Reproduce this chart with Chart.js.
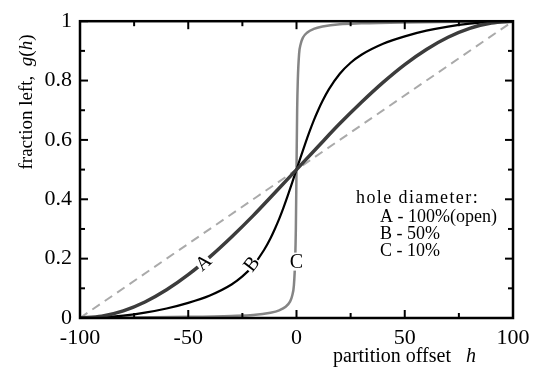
<!DOCTYPE html>
<html>
<head>
<meta charset="utf-8">
<script src="https://cdn.jsdelivr.net/npm/chart.js@4"></script>
<style>
  html, body { margin: 0; background: #fff; }
  #wrap { width: 542px; height: 367px; }
</style>
</head>
<body>
<div id="wrap"><canvas id="chart"></canvas></div>
<script>
// curve A - open hole (100%)
const hA = [-100, -90, -80, -70, -60, -50, -40, -30, -20, -10, 0, 10, 20, 30, 40, 50, 60, 70, 80, 90, 100];
const gA = [0, 0.006, 0.024, 0.054, 0.095, 0.146, 0.206, 0.273, 0.345, 0.422, 0.5, 0.578, 0.655, 0.727, 0.794, 0.854, 0.905, 0.946, 0.976, 0.994, 1];

// curve B - 50%
const hB = [-100, -90, -80, -70, -60, -50, -40, -30, -25, -20, -15, -12, -10, -8, -6, -4, -2, 0,
            2, 4, 6, 8, 10, 12, 15, 20, 25, 30, 40, 50, 60, 70, 80, 90, 100];
const gB = [0, 0.002, 0.008, 0.018, 0.032, 0.051, 0.076, 0.113, 0.14, 0.177, 0.229, 0.269, 0.3, 0.334, 0.372, 0.413, 0.456, 0.5,
            0.544, 0.587, 0.628, 0.666, 0.7, 0.731, 0.771, 0.823, 0.86, 0.887, 0.924, 0.949, 0.968, 0.982, 0.992, 0.998, 1];

// curve C - 10%
const hC = [-100, -75, -50, -30, -20, -12, -8, -5, -3, -2, -1.2, -0.6, -0.3, 0, 0.3, 0.6, 1.2, 2, 3, 5, 8, 12, 20, 30, 50, 75, 100];
const gC = [0, 0.002, 0.004, 0.007, 0.01, 0.018, 0.026, 0.038, 0.055, 0.075, 0.11, 0.2, 0.3, 0.5, 0.7, 0.8, 0.89, 0.925, 0.945, 0.962, 0.974, 0.982, 0.99, 0.993, 0.996, 0.998, 1];

// reference diagonal g = (h + 100) / 200
const hD = [-100, 100];
const gD = [0, 1];

// letters sitting on the curves
const curveLabels = ['A', 'B', 'C'];
const labelH = [-43, -20.8, 0];
const labelG = [0.187, 0.182, 0.19];

const legendLines = ['hole diameter:', 'A - 100%(open)', 'B - 50%', 'C - 10%'];

const xMajor = [-100, -50, 0, 50, 100];
const xMinor = [-75, -25, 25, 75];
const yMajor = [0, 0.2, 0.4, 0.6, 0.8, 1];
const yMinor = [0.1, 0.3, 0.5, 0.7, 0.9];

const SERIF = '"Liberation Serif", "DejaVu Serif", serif';

const pts = (xs, ys) => xs.map((v, i) => ({ x: v, y: ys[i] }));

const decorations = {
  id: 'decorations',
  afterDatasetsDraw(chart) {
    const { ctx, chartArea: a, scales: { x, y } } = chart;
    ctx.save();

    // curve letters, with a white patch that breaks the line
    const rot = [-41, -52, 0];
    ctx.font = `20px ${SERIF}`;
    ctx.textAlign = 'center';
    ctx.textBaseline = 'middle';
    curveLabels.forEach((t, i) => {
      const px = x.getPixelForValue(labelH[i]);
      const py = y.getPixelForValue(labelG[i]);
      ctx.save();
      ctx.translate(px, py);
      ctx.rotate(rot[i] * Math.PI / 180);
      ctx.fillStyle = '#fff';
      ctx.fillRect(-7, -9, 14, 18);
      ctx.fillStyle = '#000';
      ctx.fillText(t, 0, 1);
      ctx.restore();
    });

    // frame
    ctx.strokeStyle = '#000';
    ctx.lineWidth = 2.5;
    ctx.strokeRect(a.left, a.top, a.right - a.left, a.bottom - a.top);

    // inward ticks on all four sides
    ctx.lineWidth = 2;
    const seg = (x1, y1, x2, y2) => { ctx.beginPath(); ctx.moveTo(x1, y1); ctx.lineTo(x2, y2); ctx.stroke(); };
    const xt = (v, len) => {
      const px = x.getPixelForValue(v);
      seg(px, a.bottom, px, a.bottom - len);
      seg(px, a.top, px, a.top + len);
    };
    const yt = (v, len) => {
      const py = y.getPixelForValue(v);
      seg(a.left, py, a.left + len, py);
      seg(a.right, py, a.right - len, py);
    };
    xMajor.forEach(v => xt(v, 8));
    xMinor.forEach(v => xt(v, 5));
    yMajor.forEach(v => yt(v, 8));
    yMinor.forEach(v => yt(v, 5));
    ctx.restore();
  },
  afterDraw(chart) {
    const { ctx } = chart;
    ctx.save();
    ctx.fillStyle = '#000';
    ctx.textBaseline = 'middle';
    ctx.textAlign = 'left';

    // legend text block
    ctx.font = `18px ${SERIF}`;
    ctx.letterSpacing = '1.4px';
    ctx.fillText(legendLines[0], 356, 198);
    ctx.letterSpacing = '0px';
    legendLines.slice(1).forEach((t, i) => ctx.fillText(t, 380, 217 + i * 17));

    // run of text pieces, [text, italic]
    const run = (parts, x0, y0, size) => {
      let cx = x0;
      parts.forEach(([t, it]) => {
        ctx.font = `${it ? 'italic ' : ''}${size}px ${SERIF}`;
        ctx.fillText(t, cx, y0);
        cx += ctx.measureText(t).width;
      });
      return cx - x0;
    };
    const widthOf = (parts, size) => parts.reduce((w, [t, it]) => {
      ctx.font = `${it ? 'italic ' : ''}${size}px ${SERIF}`;
      return w + ctx.measureText(t).width;
    }, 0);

    // x title
    run([['partition offset   ', false], ['h', true]], 333, 357, 20);

    // y title
    const yParts = [['fraction left,  ', false], ['g', true], ['(', false], ['h', true], [')', false]];
    ctx.translate(27, 102);
    ctx.rotate(-Math.PI / 2);
    run(yParts, -widthOf(yParts, 19) / 2, 0, 19);
    ctx.restore();
  }
};

new Chart(document.getElementById('chart'), {
  type: 'line',
  data: {
    datasets: [
      { label: 'A', data: pts(hA, gA), borderColor: '#3c3c3c', borderWidth: 3.5 },
      { label: 'B', data: pts(hB, gB), borderColor: '#000', borderWidth: 2.2 },
      { label: 'C', data: pts(hC, gC), borderColor: '#858585', borderWidth: 2.5 },
      { label: 'diag', data: pts(hD, gD), borderColor: '#aaaaaa', borderWidth: 2, borderDash: [9, 6] },
    ],
  },
  options: {
    responsive: true,
    maintainAspectRatio: false,
    animation: false,
    layout: { padding: { top: 15, right: 29, left: 0, bottom: 0 } },
    elements: {
      point: { radius: 0 },
      line: { cubicInterpolationMode: 'monotone', fill: false },
    },
    plugins: { legend: { display: false }, tooltip: { enabled: false } },
    scales: {
      x: {
        type: 'linear', min: -100, max: 100,
        afterFit: s => { s.height = 49; },
        grid: { display: false, drawTicks: false },
        border: { display: false },
        ticks: { stepSize: 50, padding: 7, color: '#000', font: { family: SERIF, size: 22 }, maxRotation: 0 },
      },
      y: {
        type: 'linear', min: 0, max: 1,
        afterFit: s => { s.width = 80; },
        grid: { display: false, drawTicks: false },
        border: { display: false },
        ticks: {
          stepSize: 0.2, padding: 8, color: '#000', font: { family: SERIF, size: 22 },
          callback: v => String(Number(v.toFixed(2))),
        },
      },
    },
  },
  plugins: [decorations],
});
</script>
</body>
</html>
